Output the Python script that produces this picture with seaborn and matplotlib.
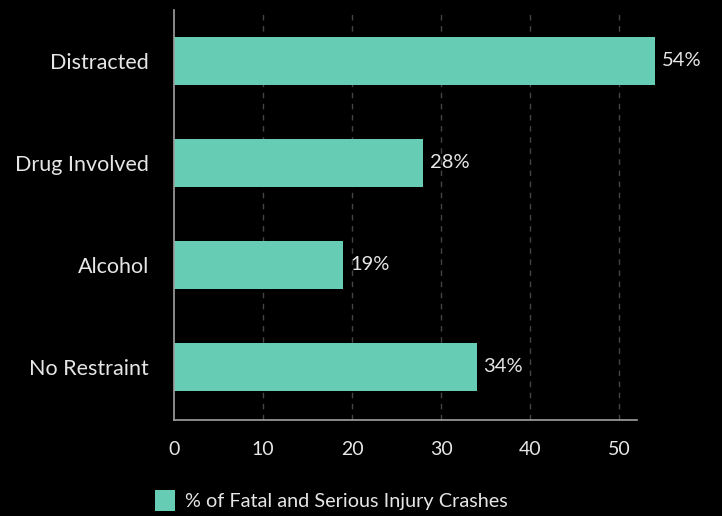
import seaborn as sns
import matplotlib.pyplot as plt
import pandas as pd

categories = ["Distracted", "Drug Involved", "Alcohol", "No Restraint"]
values = [54, 28, 19, 34]
series_name = "% of Fatal and Serious Injury Crashes"
xticks = [0, 10, 20, 30, 40, 50]

BG = "#000000"
BAR = "#66CDB4"
TXT = "#E6E6E6"

sns.set_style("dark")
plt.rcParams["font.family"] = ["Lato", "DejaVu Sans"]

df = pd.DataFrame({"factor": categories, "pct": values})

fig = plt.figure(figsize=(7.22, 5.16), dpi=100, facecolor=BG)
ax = fig.add_axes([0.241, 0.186, 0.641, 0.795])
ax.set_facecolor(BG)

sns.barplot(data=df, x="pct", y="factor", orient="h", color=BAR,
            saturation=1, width=0.47, label=series_name, linewidth=0,
            ax=ax)

for p in ax.patches:
    p.set_clip_on(False)

ax.set_xlim(0, 52)
ax.set_ylim(3.52, -0.5)
ax.set_xticks(xticks)
ax.set_xlabel("")
ax.set_ylabel("")

ax.grid(False)
for x in xticks[1:]:
    ax.axvline(x, color="#444444", lw=1, ls=(0, (4, 4)), zorder=0)

for s in ["top", "right"]:
    ax.spines[s].set_visible(False)
for s in ["left", "bottom"]:
    ax.spines[s].set_visible(True)
    ax.spines[s].set_color("#A0A0A0")
    ax.spines[s].set_linewidth(1.2)

ax.tick_params(axis="both", colors=TXT, length=0)
ax.tick_params(axis="x", pad=15, labelsize=14)
ax.tick_params(axis="y", pad=18, labelsize=15.5)

labels = ax.bar_label(ax.containers[0], labels=[f"{v}%" for v in values],
                      padding=5, color=TXT, fontsize=14.5)
for t in labels:
    t.set_clip_on(False)
    t.set_annotation_clip(False)

leg = ax.legend(loc="lower left", bbox_to_anchor=(-0.08, -0.265),
                frameon=False, fontsize=14.3, handlelength=1.0,
                handleheight=1.2, handletextpad=0.5)
for t in leg.get_texts():
    t.set_color(TXT)

fig.savefig("out.png", dpi=100, facecolor=BG)
